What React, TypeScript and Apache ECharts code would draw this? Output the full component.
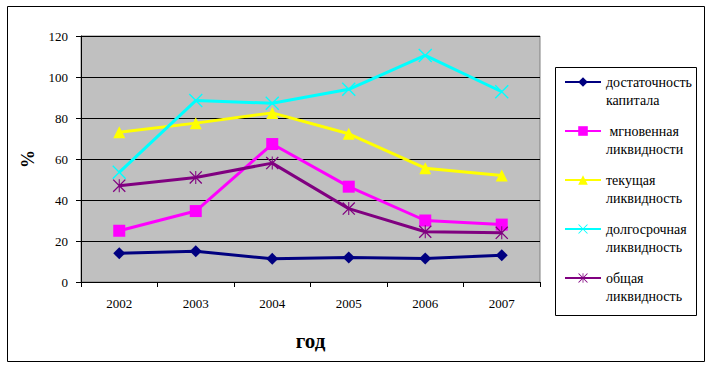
import React, { useEffect, useRef } from "react";
import * as echarts from "echarts";

const years = ["2002", "2003", "2004", "2005", "2006", "2007"];
const seriesNames = [
  "достаточность\nкапитала",
  " мгновенная\nликвидности",
  "текущая\nликвидность",
  "долгосрочная\nликвидность",
  "общая\nликвидность",
];
const capitalAdequacy = [14, 15, 11.3, 12, 11.5, 13];
const instantLiquidity = [25, 34.6, 67.3, 46.5, 30, 28];
const currentLiquidity = [73, 77.5, 82.5, 72.3, 55.5, 52];
const longTermLiquidity = [53.5, 88.5, 87.2, 94, 110.5, 92.8];
const totalLiquidity = [47, 51, 58, 35.8, 24.5, 24];
const colors = ["#000080", "#FF00FF", "#FFFF00", "#00FFFF", "#800080"];

const FONT = "Liberation Serif";

const X_PATH = "path://M0,0.7 L0.7,0 L10,9.3 L9.3,10 Z M9.3,0 L10,0.7 L0.7,10 L0,9.3 Z";
const STAR_PATH =
  "path://M0,0.7 L0.7,0 L10,9.3 L9.3,10 Z M9.3,0 L10,0.7 L0.7,10 L0,9.3 Z M4.6,0 L5.4,0 L5.4,10 L4.6,10 Z";

export default function App() {
  const ref = useRef<HTMLDivElement>(null);
  useEffect(() => {
    if (!ref.current) return;
    const chart = echarts.init(ref.current, null, { renderer: "svg" });
    const dataSets = [capitalAdequacy, instantLiquidity, currentLiquidity, longTermLiquidity, totalLiquidity];
    const symbols = ["diamond", "rect", "triangle", X_PATH, STAR_PATH];
    const sizes = [12, 12, 12, 14, 13];
    chart.setOption({
      animation: false,
      backgroundColor: "#ffffff",
      textStyle: { fontFamily: FONT },
      graphic: [
        {
          type: "rect",
          shape: { x: 7.5, y: 6.5, width: 697, height: 355 },
          style: { fill: "none", stroke: "#000", lineWidth: 1 },
          z: 0,
        },
        {
          type: "rect",
          shape: { x: 555.5, y: 67.5, width: 141, height: 248 },
          style: { fill: "none", stroke: "#000", lineWidth: 1 },
          z: 0,
        },
      ],
      grid: {
        left: 81,
        top: 36,
        right: 173,
        bottom: 86,
        show: true,
        backgroundColor: "#C0C0C0",
        borderColor: "#808080",
        borderWidth: 1,
      },
      legend: {
        orient: "vertical",
        left: 564,
        top: 55,
        padding: 0,
        itemWidth: 36,
        itemHeight: 12,
        itemGap: -5,
        data: seriesNames,
        formatter: (name: string) => {
          const parts = name.split("\n");
          return "{s| }\n{a|" + parts[0] + "}\n{a|" + parts[1] + "}";
        },
        textStyle: {
          fontFamily: FONT,
          fontSize: 14,
          color: "#000",
          lineHeight: 18,
          rich: {
            s: { lineHeight: 18, fontSize: 14, fontFamily: FONT },
            a: { lineHeight: 18, fontSize: 14, fontFamily: FONT, color: "#000" },
          },
        },
      },
      xAxis: {
        type: "category",
        data: years,
        boundaryGap: true,
        name: "год",
        nameLocation: "middle",
        nameGap: 48,
        nameTextStyle: { fontFamily: FONT, fontSize: 21, fontWeight: "bold", color: "#000" },
        axisLine: { lineStyle: { color: "#000", width: 1 } },
        axisTick: { show: true, length: 5, inside: false, lineStyle: { color: "#000" } },
        axisLabel: { margin: 15, fontSize: 13, color: "#000", fontFamily: FONT },
        splitLine: { show: false },
      },
      yAxis: {
        type: "value",
        min: 0,
        max: 120,
        interval: 20,
        name: "%",
        nameLocation: "middle",
        nameGap: 44,
        nameRotate: 90,
        nameTextStyle: { fontFamily: FONT, fontSize: 18, fontWeight: "bold", color: "#000" },
        axisLine: { show: true, lineStyle: { color: "#000", width: 1 } },
        axisTick: { show: true, length: 5, lineStyle: { color: "#000" } },
        axisLabel: { margin: 13, fontSize: 13, color: "#000", fontFamily: FONT },
        splitLine: { show: true, lineStyle: { color: "#000", width: 1 } },
      },
      series: dataSets.map((d, i) => ({
        name: seriesNames[i],
        type: "line",
        data: d,
        symbol: symbols[i],
        symbolSize: sizes[i],
        showAllSymbol: true,
        lineStyle: { color: colors[i], width: 3 },
        itemStyle: { color: colors[i] },
        z: 2 + i,
      })),
    });
    return () => chart.dispose();
  }, []);
  return (
    <div
      ref={ref}
      style={{ position: "fixed", left: 0, top: 0, width: 713, height: 368 }}
    />
  );
}
